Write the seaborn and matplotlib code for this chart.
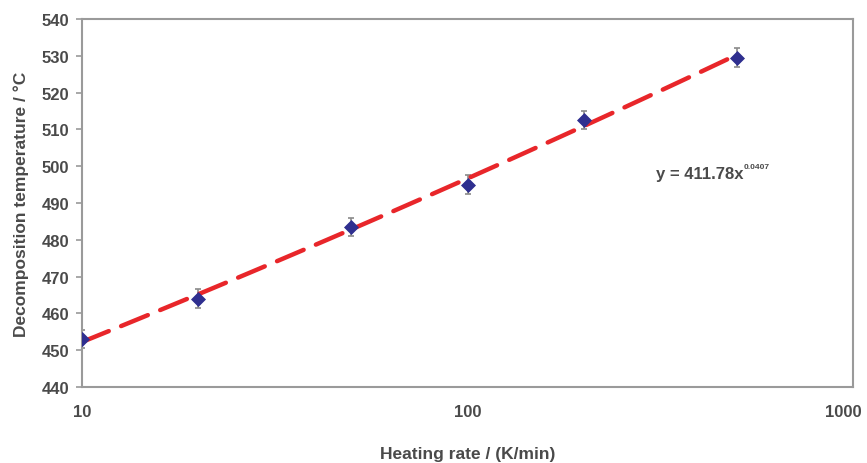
import numpy as np
import pandas as pd
import matplotlib
matplotlib.use("Agg")
import matplotlib.pyplot as plt
import matplotlib.transforms as mtransforms
import seaborn as sns

# data
heating_rate = [10, 20, 50, 100, 200, 500]
decomp_temp = [453.0, 464.0, 483.5, 495.0, 512.5, 529.5]
temp_err = [2.5, 2.5, 2.5, 2.5, 2.5, 2.5]

# power-law fit shown on the chart: y = a * x^b
fit_a = 411.78
fit_b = 0.0407

y_ticks = [440, 450, 460, 470, 480, 490, 500, 510, 520, 530, 540]
x_ticks = [10, 100, 1000]

sns.set_style("white")
plt.rcParams["font.family"] = ["Liberation Sans", "DejaVu Sans"]
plt.rcParams["font.weight"] = "bold"

text_col = "#4a4a4a"
frame_col = "#9a9a9a"

df = pd.DataFrame({"rate": heating_rate, "temp": decomp_temp, "err": temp_err})

fig = plt.figure(figsize=(8.67, 4.64), dpi=100)
ax = fig.add_axes([82 / 867, 1 - 388 / 464, (853 - 82) / 867, (388 - 20) / 464])

# trend line across the data range
x_fit = np.geomspace(heating_rate[0], heating_rate[-1], 60)
fit_df = pd.DataFrame({"rate": x_fit, "temp": fit_a * x_fit ** fit_b})
sns.lineplot(data=fit_df, x="rate", y="temp", ax=ax, color="#e8262a",
             linewidth=3.2, zorder=3)
ax.lines[-1].set_dashes([6.5, 3])
ax.lines[-1].set_dash_capstyle("round")

ax.errorbar(df["rate"], df["temp"], yerr=df["err"], fmt="none",
            ecolor="#8a8a8a", elinewidth=1.2, capsize=2.5, capthick=1.2, zorder=2)
sns.scatterplot(data=df, x="rate", y="temp", ax=ax, marker="D", s=50,
                color="#2f2f8f", edgecolor="#2f2f8f", zorder=4)

ax.set_xscale("log")
ax.set_xlim(10, 1000)
ax.set_ylim(440, 540)
ax.set_xticks(x_ticks)
ax.set_xticklabels([str(t) for t in x_ticks])
ax.minorticks_off()
ax.set_yticks(y_ticks)

for s in ax.spines.values():
    s.set_color(frame_col)
    s.set_linewidth(1.5)

ax.tick_params(axis="both", colors=frame_col, labelcolor=text_col,
               labelsize=12, length=4, width=1.2, direction="out")
ax.tick_params(axis="x", pad=8, bottom=False)
ax.tick_params(axis="y", left=True, pad=5)

# nudge the last x label so it stays inside the canvas
last = ax.get_xticklabels()[-1]
last.set_transform(last.get_transform() +
                   mtransforms.ScaledTranslation(-10 / 100, 0, fig.dpi_scale_trans))

ax.set_xlabel("Heating rate / (K/min)", fontsize=12.5, color=text_col,
              fontweight="bold", labelpad=20)
ax.set_ylabel("Decomposition temperature / °C", fontsize=12.5, color=text_col,
              fontweight="bold", labelpad=9)

eq = ax.text(308, 498, f"y = {fit_a}x", fontsize=12, color=text_col,
             fontweight="bold", va="center", ha="left")
ax.annotate(f"{fit_b}", xy=(1.0, 0.72), xycoords=eq, fontsize=6,
            color=text_col, fontweight="bold", va="bottom", ha="left")

fig.savefig("out.png", dpi=100)
